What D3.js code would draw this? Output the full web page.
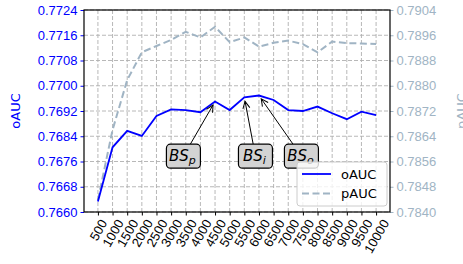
<!DOCTYPE html>
<html>
<head>
<meta charset="utf-8">
<script src="https://cdn.jsdelivr.net/npm/d3@7"></script>
<style>
  body { margin: 0; background: #fff; }
  svg { font-family: "DejaVu Sans", sans-serif; }
</style>
</head>
<body>
<div class="chart"></div>
<script>
const WIDTH = 463;
const HEIGHT = 264;
const LEFT = 84, RIGHT = 390, TOP = 10, BOTTOM = 212;
const FS = 13;

const BLUE = "#0000ff";
const GREY = "#a0b4c4";

var sizes = [500, 1000, 1500, 2000, 2500, 3000, 3500, 4000, 4500, 5000,
             5500, 6000, 6500, 7000, 7500, 8000, 8500, 9000, 9500, 10000];
var oAUC = [0.76633, 0.76805, 0.76857, 0.76841, 0.76904, 0.76925, 0.76923, 0.76916, 0.76950, 0.76923,
            0.76963, 0.76969, 0.76955, 0.76923, 0.76920, 0.76934, 0.76913, 0.76894, 0.76918, 0.76907];
var pAUC = [0.78438, 0.78660, 0.78818, 0.78906, 0.78926, 0.78945, 0.78971, 0.78953, 0.78987, 0.78938,
            0.78953, 0.78924, 0.78936, 0.78943, 0.78932, 0.78906, 0.78940, 0.78935, 0.78934, 0.78932];
var leftTicks = [0.7660, 0.7668, 0.7676, 0.7684, 0.7692, 0.7700, 0.7708, 0.7716, 0.7724];
var rightTicks = [0.7840, 0.7848, 0.7856, 0.7864, 0.7872, 0.7880, 0.7888, 0.7896, 0.7904];

// annotations: subscript, text position (data coords), target size
var notes = [
    {sub: "p", tx: 3420, ty: 0.76777, target: 4500},
    {sub: "i", tx: 5880, ty: 0.76777, target: 5500},
    {sub: "o", tx: 7450, ty: 0.76777, target: 6000}
];

var translate = function (x, y) {
    return "translate(" + x + "," + y + ")";
};

var svg = d3.select('.chart').append('svg')
    .attr('width', WIDTH)
    .attr('height', HEIGHT);

var x = d3.scaleLinear().domain([500 - 475, 10000 + 475]).range([LEFT, RIGHT]);
var yL = d3.scaleLinear().domain([0.7660, 0.7724]).range([BOTTOM, TOP]);
var yR = d3.scaleLinear().domain([0.7840, 0.7904]).range([BOTTOM, TOP]);

// grid
var grid = svg.append("g");
sizes.forEach(function (s) {
    grid.append("line")
        .attr("x1", x(s)).attr("x2", x(s)).attr("y1", TOP).attr("y2", BOTTOM)
        .attr("stroke", "#b0b0b0").attr("stroke-width", 0.9).attr("stroke-dasharray", "4,2");
});
leftTicks.forEach(function (t) {
    grid.append("line")
        .attr("x1", LEFT).attr("x2", RIGHT).attr("y1", yL(t)).attr("y2", yL(t))
        .attr("stroke", "#b0b0b0").attr("stroke-width", 0.9).attr("stroke-dasharray", "4,2");
});

// axes
var xAxis = svg.append("g").attr("transform", translate(0, BOTTOM))
    .call(d3.axisBottom(x).tickValues(sizes).tickSize(3.5).tickSizeOuter(0).tickFormat(d3.format("d")));
xAxis.select(".domain").remove();
xAxis.selectAll("text")
    .attr("font-size", FS)
    .attr("fill", "#000")
    .attr("dy", null).attr("y", null)
    .attr("text-anchor", "middle")
    .attr("dominant-baseline", "central")
    .attr("transform", function () {
        var w = this.getComputedTextLength(), h = FS * 0.8;
        var a = Math.PI / 3;
        var half = (w * Math.sin(a) + h * Math.cos(a)) / 2;
        return translate(0, 6 + half) + " rotate(-60)";
    });

var lAxis = svg.append("g").attr("transform", translate(LEFT, 0))
    .call(d3.axisLeft(yL).tickValues(leftTicks).tickSize(3.5).tickSizeOuter(0).tickFormat(d3.format(".4f")));
lAxis.select(".domain").remove();
lAxis.selectAll("line").attr("stroke", BLUE);
lAxis.selectAll("text").attr("font-size", FS).attr("fill", BLUE);

var rAxis = svg.append("g").attr("transform", translate(RIGHT, 0))
    .call(d3.axisRight(yR).tickValues(rightTicks).tickSize(3.5).tickSizeOuter(0).tickFormat(d3.format(".4f")));
rAxis.select(".domain").remove();
rAxis.selectAll("line").attr("stroke", GREY);
rAxis.selectAll("text").attr("font-size", FS).attr("fill", GREY);

// frame
svg.append("rect")
    .attr("x", LEFT).attr("y", TOP).attr("width", RIGHT - LEFT).attr("height", BOTTOM - TOP)
    .attr("fill", "none").attr("stroke", "#000").attr("stroke-width", 1.2);

// axis labels
svg.append("text")
    .attr("transform", translate(20, (TOP + BOTTOM) / 2) + " rotate(-90)")
    .attr("text-anchor", "middle").attr("font-size", FS).attr("fill", BLUE)
    .text("oAUC");
svg.append("text")
    .attr("transform", translate(466, (TOP + BOTTOM) / 2) + " rotate(-90)")
    .attr("text-anchor", "middle").attr("font-size", FS).attr("fill", GREY)
    .text("pAUC");

// lines
var lineP = d3.line().x(function (d, i) { return x(sizes[i]); }).y(function (d) { return yR(d); });
var lineO = d3.line().x(function (d, i) { return x(sizes[i]); }).y(function (d) { return yL(d); });

svg.append("path").datum(pAUC)
    .attr("d", lineP).attr("fill", "none")
    .attr("stroke", GREY).attr("stroke-width", 2).attr("stroke-dasharray", "7,3.5");
svg.append("path").datum(oAUC)
    .attr("d", lineO).attr("fill", "none")
    .attr("stroke", BLUE).attr("stroke-width", 1.8);

// arrow marker
svg.append("defs").append("marker")
    .attr("id", "arr").attr("viewBox", "-10 -6 12 12")
    .attr("refX", 0).attr("refY", 0)
    .attr("markerWidth", 12).attr("markerHeight", 12)
    .attr("markerUnits", "userSpaceOnUse")
    .attr("orient", "auto")
    .append("path").attr("d", "M-7,-3.5L0,0L-7,3.5")
    .attr("fill", "none").attr("stroke", "#000").attr("stroke-width", 1);

// annotations
var boxW = 34, boxH = 24;
notes.forEach(function (n) {
    var cx = x(n.tx), cy = yL(n.ty);
    var px = x(n.target), py = yL(oAUC[sizes.indexOf(n.target)]);
    var dx = px - cx, dy = py - cy;
    var len = Math.sqrt(dx * dx + dy * dy);
    var tEdge = Math.min(Math.abs((boxH / 2) / dy), Math.abs((boxW / 2) / (dx || 1e-9)));
    var sx = cx + dx * tEdge, sy = cy + dy * tEdge;
    var ex = px - dx / len * 4, ey = py - dy / len * 4;
    svg.append("line")
        .attr("x1", sx).attr("y1", sy).attr("x2", ex).attr("y2", ey)
        .attr("stroke", "#000").attr("stroke-width", 1)
        .attr("marker-end", "url(#arr)");
});
notes.forEach(function (n) {
    var cx = x(n.tx), cy = yL(n.ty);
    svg.append("rect")
        .attr("x", cx - boxW / 2).attr("y", cy - boxH / 2)
        .attr("width", boxW).attr("height", boxH).attr("rx", 4)
        .attr("fill", "#d3d3d3").attr("stroke", "#000").attr("stroke-width", 1.2);
    var t = svg.append("text")
        .attr("x", cx - 1).attr("y", cy + 5)
        .attr("text-anchor", "middle").attr("font-size", 15).attr("font-style", "italic");
    t.append("tspan").text("BS");
    t.append("tspan").attr("font-size", 11).attr("dy", 3).text(n.sub);
});

// legend
var lg = svg.append("g").attr("transform", translate(297, 162));
lg.append("rect").attr("width", 90).attr("height", 44).attr("rx", 3)
    .attr("fill", "#fff").attr("fill-opacity", 0.8).attr("stroke", "#cccccc");
[["oAUC", BLUE, null, 1.8], ["pAUC", GREY, "7,3.5", 2]].forEach(function (d, i) {
    var yy = 12 + i * 19.5;
    lg.append("line").attr("x1", 5).attr("x2", 34).attr("y1", yy).attr("y2", yy)
        .attr("stroke", d[1]).attr("stroke-width", d[3]).attr("stroke-dasharray", d[2]);
    lg.append("text").attr("x", 44).attr("y", yy + 4.5).attr("font-size", FS).text(d[0]);
});
</script>
</body>
</html>
